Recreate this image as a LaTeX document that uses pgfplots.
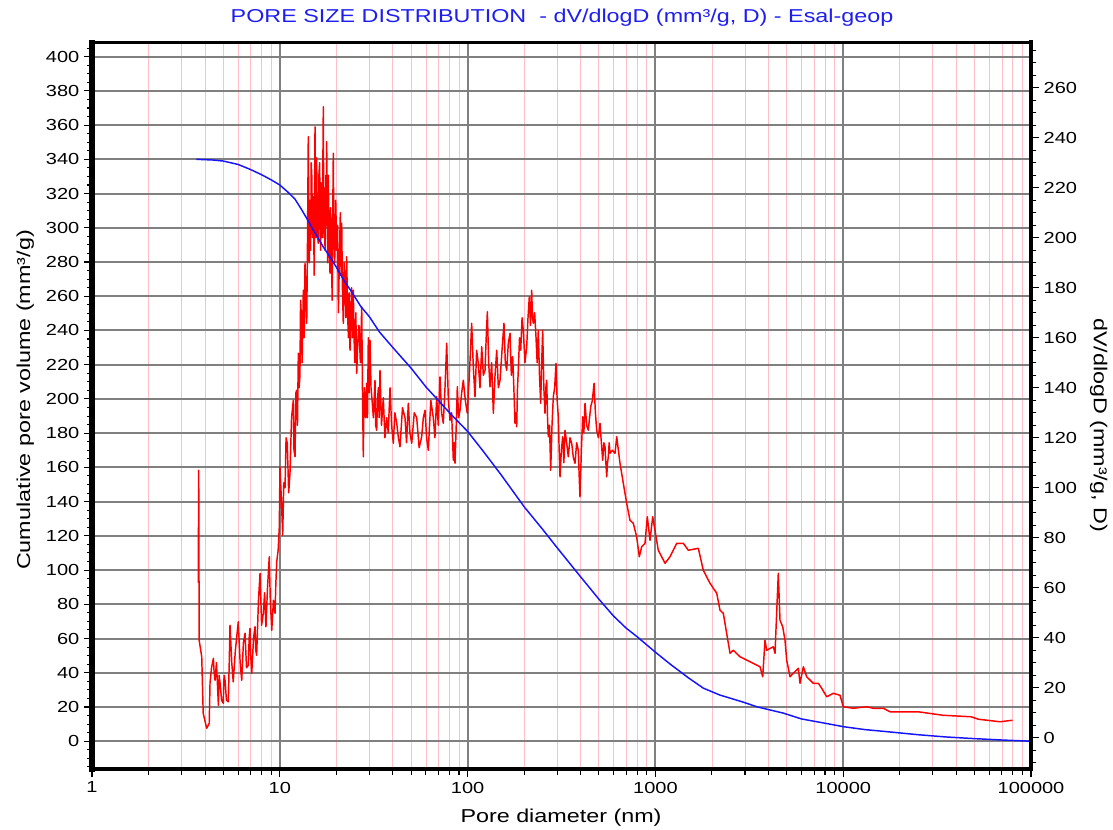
\documentclass[border=0pt]{standalone}
\usepackage{pgfplots}
\pgfplotsset{compat=1.18}
\usepackage{fontspec}
\setmainfont{Liberation Sans}[FakeStretch=1.25]
\definecolor{gridgray}{RGB}{128,128,128}
\definecolor{pinkgrid}{RGB}{255,190,200}
\definecolor{titleblue}{RGB}{30,30,240}
\definecolor{curveblue}{RGB}{20,20,255}

\pgfplotstableread{
x y
3.6 340
4.4 339.6
5 339
6 337
7 334
8 331
9 328
10 325
11 321
12 317
13 311
14 305
15 299
16 294
17 289
18.5 283
20 277
22 269
24 263
27 254
30 248
34 239
40 230
50 218
60 207
70 199
80 192
100 181
120 170
150 156
200 137
250 124
300 113
400 96
500 83
600 73
700 66
800 61
1000 52
1200 45
1500 37
1800 31
2200 27
2900 23
3500 20
4800 16.4
6000 13
8000 10.5
10000 8.5
13000 6.8
17000 5.6
25000 3.8
35000 2.5
50000 1.5
70000 0.7
100000 0
}\cumdata

\pgfplotstableread{
x y
3.68 62
3.70 107
3.71 80
3.72 39
3.84 32.4
3.91 9.8
4.08 3.8
4.21 5.8
4.25 21.8
4.33 28
4.43 31.8
4.47 26
4.52 23
4.6 30
4.71 13
4.75 25
4.80 22.4
4.9 15
5.00 13.8
5.05 25
5.11 23
5.2 15
5.32 14.4
5.38 30
5.43 45
5.55 30
5.65 22.4
5.8 35
6.01 46.4
6.15 30
6.27 23
6.4 38
6.53 41.8
6.65 28
6.80 29
6.87 40
6.94 43.8
7.0 33
7.09 25.8
7.25 40
7.38 44.4
7.45 35
7.53 33
7.7 55
7.85 65.8
8.0 45
8.17 49.8
8.3 58
8.44 44.4
8.6 60
8.79 72.4
8.9 55
9.06 43
9.25 55
9.43 49.8
9.53 62
9.63 70.4
9.8 75
9.94 84.4
10.02 108.4
10.2 95
10.36 81
10.5 102
10.66 100
10.8 120
10.96 117.8
11.15 98
11.33 105.8
11.55 128
11.80 135
11.9 115
12.05 112.4
12.18 138
12.30 139
12.42 125
12.55 153.8
12.68 140
12.8 145
12.9 175
13.0 170
13.15 150
13.34 179
13.48 160
13.62 189.8
13.75 175
13.91 165.8
14.05 200
14.18 240.4
14.27 205
14.35 190
14.47 215
14.60 195
14.7 230
14.8 225
14.95 200
15.08 216.4
15.18 198
15.25 185
15.33 215
15.40 244.4
15.5 205
15.6 200
15.7 232
15.8 215
15.92 200
16.03 197.8
16.15 225
16.3 230
16.4 205
16.5 195
16.6 222
16.72 219
16.8 200
16.9 205
16.98 235
17.05 252.4
17.12 215
17.2 200
17.3 220
17.41 195
17.5 210
17.6 225
17.7 205
17.77 238.4
17.88 210
18.0 190
18.1 225
18.2 215
18.35 195
18.51 185.8
18.65 212
18.8 200
18.9 188
19.0 175
19.12 205
19.27 233.8
19.4 200
19.6 190
19.85 215
20.09 195
20.3 205
20.5 170
20.75 190
21.0 210
21.2 185
21.36 205.8
21.55 180
21.78 165.8
22.0 190
22.2 185
22.45 168
22.71 192.4
22.95 170
23.2 160
23.4 178
23.65 155
23.9 168
24.1 180
24.35 160
24.63 179
24.85 160
25.1 150
25.4 170
25.68 145.8
26.0 158
26.4 165
26.85 150
27.30 172.4
27.55 140
27.84 112.4
28.0 130
28.2 140
28.6 128
29.02 141.8
29.3 128
29.6 160
29.9 138
30.22 159
30.6 140
31.0 135
31.5 128
32.13 143
32.4 125
32.81 123
33.1 135
33.5 140
33.8 128
34.16 147
34.8 125
35.57 136
36.3 120
37.09 128
37.8 122
38.63 140
39.4 125
40.22 117.8
41.0 130
41.94 125.8
42.8 120
43.65 116.4
45.0 132
46.42 128
47.3 118
48.33 133.8
49.3 122
50.39 117.8
52.0 130
53.58 128
55.2 116
56.96 120.4
58.1 128
59.32 131
60.5 120
61.76 115
63.7 135
65.66 128
67.0 120
68.46 136.4
69.8 125
71.29 144.4
72.7 130
74.23 125.8
75.8 140
77.39 157.8
79.0 135
80.59 127
82.2 130
83.93 111
84.8 118
85.69 109.8
87.0 125
88.15 140.4
89.6 128
91.12 131
93.0 138
94.86 143
97.2 135
99.63 129.8
100.9 138
102.1 144.4
103.6 155
105.1 165.8
107.3 148
109.5 136.4
111.7 155
114.0 149.8
116.4 140
118.9 156.4
121.3 145
123.8 147
125.6 160
127.4 170.4
129.5 150
131.6 140.4
134.3 150
137.1 129.8
140.0 145
142.9 155
145.8 140
148.8 143
152.5 155
156.2 165.8
158.8 150
161.5 147
164.8 158
168.2 161.8
171.0 145
173.8 152.4
176.3 140
178.8 125.8
180.7 130
182.6 124.4
184.4 140
186.2 147
189.0 160
191.8 155
195.0 168
198.0 163
202.0 150
206.4 156.4
209.7 168
213.1 176.4
216.2 165
219.4 179
221.6 168
223.8 165.8
227.5 170
231.3 160.4
234.6 150
237.9 163
241.4 145
245.0 133.8
248.0 150
251.1 163
254.7 140
258.3 129.8
261.0 140
263.8 143
266.4 128
269.0 120.4
273.0 125
277.0 107
281.5 125
286.0 136.4
290.8 140
295.6 149.8
299.8 135
304.1 128.4
307.3 115
310.5 104.4
315.7 115
320.9 120.4
325.5 110
330.1 123
336.9 118
343.7 112.4
351.0 120
358.4 117.8
365.8 112
373.2 109.8
380.9 118
388.6 115
392.7 105
396.8 96.4
403.5 115
410.2 128.4
416.0 122
421.9 133.8
430.6 125
439.4 123
446.0 128
452.5 132.4
461.8 135
471.2 141.8
479.1 130
487.0 123
497.0 120
507.0 125.8
515.5 118
524.1 111
531.6 118
539.1 116.4
544.8 110
550.5 104.4
556.0 110
561.4 112.4
567.3 118
573.2 113.8
590.0 115
609.5 113.8
622.3 120.4
647.9 109.8
674.6 101.8
703.3 93.8
732.2 87
762.5 85.8
795.0 80.4
820.8 72.4
845.3 76.4
880.2 77.8
905.5 88.4
936.0 79
967.4 88.4
995.2 83
1036 75
1080 72.4
1125 69.8
1196 72.4
1245 75
1298 77.8
1408 77.8
1497 75
1692 75.8
1799 67
1953 61.8
2121 57.8
2208 51
2299 49.8
2496 33.8
2599 35
2822 32.4
3606 28.4
3727 24.4
3833 39
3914 35
4245 36.4
4334 33.8
4512 65.8
4608 47
4763 44.4
4899 39
5002 31
5209 24.4
5424 25.8
5768 27.8
5889 21.8
6134 28.4
6391 24.4
6931 21.8
7370 21.8
7682 19.8
8168 16.4
8859 17.8
9616 17
10010 12.4
11320 11.8
13340 12.4
14460 11.8
16350 11.8
17750 10.4
20060 10.4
25020 10.4
33970 9
47920 8.4
52600 7.4
68400 6.4
79700 7
}\psddata

\begin{document}
\begin{tikzpicture}
\path[use as bounding box] (0,0) rectangle (834.75pt,621.75pt);
% left axis with grid
\begin{axis}[
  at={(69pt,44.8pt)}, anchor=south west,
  width=704.25pt, height=545.25pt, scale only axis,
  xmode=log, xmin=1, xmax=100000,
  ymin=-16.4, ymax=408.4,
  /pgf/number format/assume math mode=true,
  tick align=outside,
  major tick length=6pt, minor tick length=4pt,
  tick style={black, line width=0.8pt},
  ticklabel style={font=\fontsize{12}{14}\selectfont},
  axis line style={draw=none},
  tick pos=left,
  xtick={1,10,100,1000,10000,100000},
  xticklabels={1,10,100,1000,10000,100000},
  minor xtick={2,3,4,5,6,7,8,9,20,30,40,50,60,70,80,90,200,300,400,500,600,700,800,900,2000,3000,4000,5000,6000,7000,8000,9000,20000,30000,40000,50000,60000,70000,80000,90000},
  ytick={0,20,...,400},
  minor ytick={-15,-10,...,405},
  xmajorgrids=true, xminorgrids=true, ymajorgrids=true,
  major grid style={gridgray, line width=1.5pt},
  minor grid style={pinkgrid, line width=0.6pt},
]
\end{axis}
% right axis with red curve
\begin{axis}[
  at={(69pt,44.8pt)}, anchor=south west,
  width=704.25pt, height=545.25pt, scale only axis,
  xmode=log, xmin=1, xmax=100000,
  ymin=-12.6, ymax=278.2,
  /pgf/number format/assume math mode=true,
  tick align=outside,
  major tick length=6pt, minor tick length=4pt,
  tick style={black, line width=0.8pt},
  ticklabel style={font=\fontsize{12}{14}\selectfont},
  axis x line=none,
  axis y line*=right,
  axis line style={draw=none},
  ytick={0,20,...,260},
  minor ytick={-10,-5,...,275},
]
\addplot[red, line width=1.1pt, line join=round] table[x=x,y=y] {\psddata};
\end{axis}
% blue curve on top
\begin{axis}[
  at={(69pt,44.8pt)}, anchor=south west,
  width=704.25pt, height=545.25pt, scale only axis,
  xmode=log, xmin=1, xmax=100000,
  ymin=-16.4, ymax=408.4, hide axis]
\addplot[curveblue, line width=1.1pt, line join=round] table[x=x,y=y] {\cumdata};
\end{axis}
% frame
\draw[line width=2pt, line cap=rect] (69pt,590pt) -- (773.25pt,590pt);
\draw[line width=3pt, line cap=rect] (773.25pt,44.8pt) -- (773.25pt,590pt);
\draw[line width=3pt, line cap=rect] (69pt,44.8pt) -- (773.25pt,44.8pt);
\draw[line width=4pt, line cap=rect] (69pt,44.8pt) -- (69pt,590pt);
% texts
\node[font=\fontsize{14}{16}\selectfont, text=titleblue] at (421.5pt,608.25pt) {PORE SIZE DISTRIBUTION\ \ - dV/dlogD (mm³/g, D) - Esal-geop};
\node[font=\fontsize{14}{16}\selectfont, rotate=90] at (19pt,321.75pt) {Cumulative pore volume (mm³/g)};
\node[font=\fontsize{14}{16}\selectfont, rotate=-90] at (824pt,303pt) {dV/dlogD (mm³/g, D)};
\node[font=\fontsize{14}{16}\selectfont] at (420.75pt,8.25pt) {Pore diameter (nm)};
\end{tikzpicture}
\end{document}
